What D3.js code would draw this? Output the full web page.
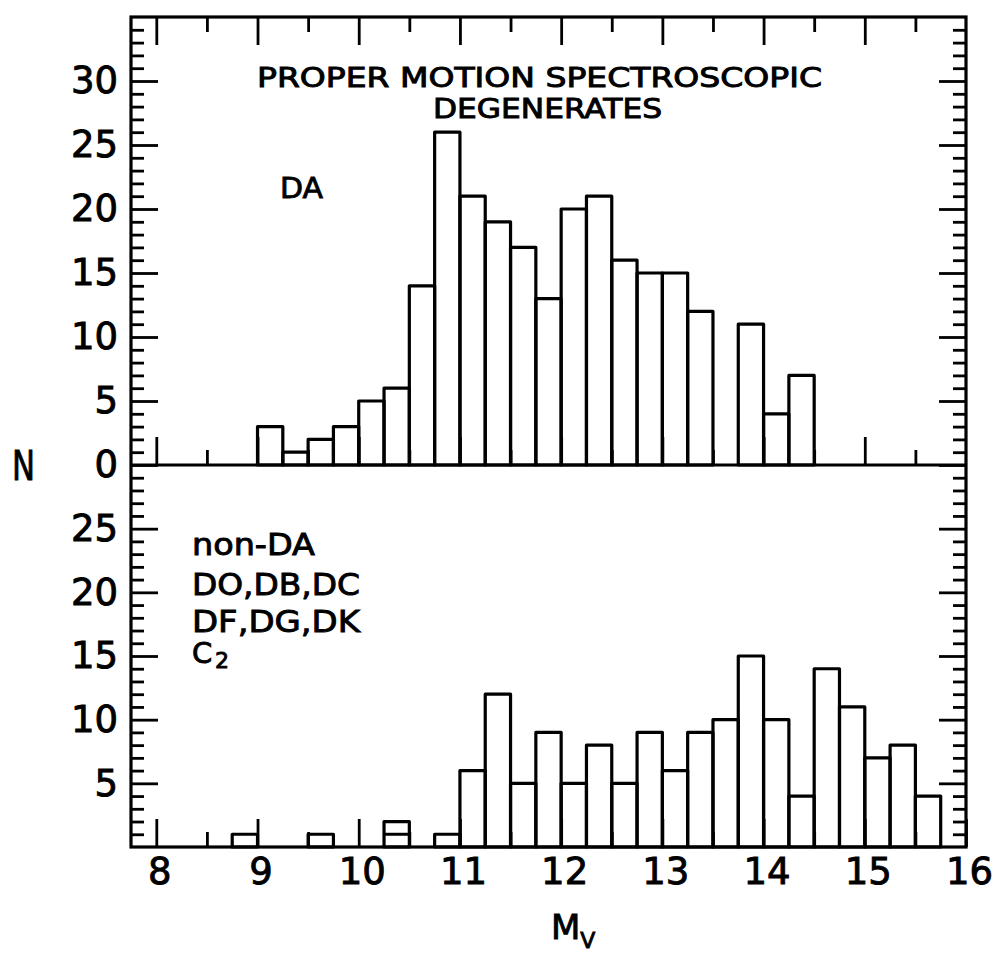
<!DOCTYPE html>
<html>
<head>
<meta charset="utf-8">
<script src="https://cdn.jsdelivr.net/npm/d3@7"></script>
<style>
  body { margin: 0; background: #fff; }
  svg { display: block; }
  text { stroke: #000; stroke-width: 0.9px; }
</style>
</head>
<body>
<div id="chart"></div>
<script>
// --- Data: counts per 0.25 mag bin (bins given by their lower edge in Mv) ---
const binWidth = 0.25;

const daBins = [9.0, 9.25, 9.5, 9.75, 10.0, 10.25, 10.5, 10.75, 11.0, 11.25, 11.5,
  11.75, 12.0, 12.25, 12.5, 12.75, 13.0, 13.25, 13.5, 13.75, 14.0, 14.25];
const daCounts = [3, 1, 2, 3, 5, 6, 14, 26, 21, 19, 17,
  13, 20, 21, 16, 15, 15, 12, 0, 11, 4, 7];

const nonDaBins = [8.75, 9.0, 9.25, 9.5, 9.75, 10.0, 10.25, 10.5, 10.75, 11.0, 11.25,
  11.5, 11.75, 12.0, 12.25, 12.5, 12.75, 13.0, 13.25, 13.5, 13.75, 14.0, 14.25,
  14.5, 14.75, 15.0, 15.25, 15.5];
const nonDaCounts = [1, 0, 0, 1, 0, 0, 2, 0, 1, 6, 12,
  5, 9, 5, 8, 5, 9, 6, 9, 10, 15, 10, 4,
  14, 11, 7, 8, 4];

// the 10.25 bin of the lower panel is drawn as two stacked boxes
const nonDaSplitBins = [10.25];
const nonDaSplitAt = [1];

// --- Ticks ---
const xTicks = [8, 9, 10, 11, 12, 13, 14, 15, 16];
const xMinorTicks = [8.5, 9.5, 10.5, 11.5, 12.5, 13.5, 14.5, 15.5];
const daTicks = [0, 5, 10, 15, 20, 25, 30];
const nonDaTicks = [5, 10, 15, 20, 25];

// --- Frame ---
const W = 996, H = 954;
const frame = { left: 131, right: 966, top: 17, mid: 465, bottom: 847 };
const font = "DejaVu Sans, Liberation Sans, sans-serif";

const svg = d3.select("#chart")
  .append("svg")
  .attr("width", W)
  .attr("height", H)
  .style("font-family", font);

// --- Scales ---
const x = d3.scaleLinear().domain([7.75, 16]).range([frame.left, frame.right]);
const yTop = d3.scaleLinear().domain([0, 35]).range([frame.mid, frame.top]);
const yBot = d3.scaleLinear().domain([0, 30]).range([frame.bottom, frame.mid]);

const minorTop = d3.range(1, 35).filter(d => d % 5 !== 0);
const minorBot = d3.range(1, 30).filter(d => d % 5 !== 0);

// --- Bars ---
function drawBars(bins, counts, y) {
  const rows = bins.map((b, i) => ({ b, c: counts[i] })).filter(d => d.c > 0);
  svg.append("g")
    .selectAll("rect")
    .data(rows)
    .join("rect")
    .attr("x", d => x(d.b))
    .attr("width", d => x(d.b + binWidth) - x(d.b))
    .attr("y", d => y(d.c))
    .attr("height", d => y(0) - y(d.c))
    .attr("fill", "none")
    .attr("stroke", "#000")
    .attr("stroke-width", 3.2)
    .attr("stroke-linejoin", "round");
}
drawBars(daBins, daCounts, yTop);
drawBars(nonDaBins, nonDaCounts, yBot);

svg.append("g")
  .selectAll("line")
  .data(nonDaSplitBins.map((b, i) => ({ b, at: nonDaSplitAt[i] })))
  .join("line")
  .attr("x1", d => x(d.b))
  .attr("x2", d => x(d.b + binWidth))
  .attr("y1", d => yBot(d.at))
  .attr("y2", d => yBot(d.at))
  .attr("stroke", "#000")
  .attr("stroke-width", 3);

// --- Axes (ticks point inward, frame drawn separately) ---
function tickAxis(axis, transform, labels, fontSize) {
  const g = svg.append("g")
    .attr("transform", transform)
    .call(axis);
  g.select(".domain").remove();
  g.selectAll(".tick line").attr("stroke", "#000").attr("stroke-width", 2.8);
  g.attr("font-size", fontSize || 10).attr("font-family", font);
  g.selectAll(".tick text").attr("fill", "#000");
  if (!labels) g.selectAll(".tick text").remove();
  return g;
}

// y axes, left with labels
tickAxis(d3.axisLeft(yTop).tickValues(daTicks).tickSizeInner(-27).tickSizeOuter(0).tickPadding(13),
  `translate(${frame.left},0)`, true, 37);
tickAxis(d3.axisLeft(yTop).tickValues(minorTop).tickSizeInner(-13).tickSizeOuter(0),
  `translate(${frame.left},0)`, false);
tickAxis(d3.axisLeft(yBot).tickValues(nonDaTicks).tickSizeInner(-27).tickSizeOuter(0).tickPadding(13),
  `translate(${frame.left},0)`, true, 37);
tickAxis(d3.axisLeft(yBot).tickValues(minorBot).tickSizeInner(-13).tickSizeOuter(0),
  `translate(${frame.left},0)`, false);

// y axes, right
tickAxis(d3.axisRight(yTop).tickValues(daTicks).tickSizeInner(-27).tickSizeOuter(0),
  `translate(${frame.right},0)`, false);
tickAxis(d3.axisRight(yTop).tickValues(minorTop).tickSizeInner(-13).tickSizeOuter(0),
  `translate(${frame.right},0)`, false);
tickAxis(d3.axisRight(yBot).tickValues(nonDaTicks).tickSizeInner(-27).tickSizeOuter(0),
  `translate(${frame.right},0)`, false);
tickAxis(d3.axisRight(yBot).tickValues(minorBot).tickSizeInner(-13).tickSizeOuter(0),
  `translate(${frame.right},0)`, false);

// x axes: top frame, middle baseline, bottom with labels
tickAxis(d3.axisTop(x).tickValues(xTicks.slice(0, -1)).tickSizeInner(-28).tickSizeOuter(0),
  `translate(0,${frame.top})`, false);
tickAxis(d3.axisTop(x).tickValues(xMinorTicks).tickSizeInner(-15).tickSizeOuter(0),
  `translate(0,${frame.top})`, false);
tickAxis(d3.axisBottom(x).tickValues(xTicks.slice(0, -1)).tickSizeInner(-28).tickSizeOuter(0),
  `translate(0,${frame.mid})`, false);
tickAxis(d3.axisBottom(x).tickValues(xMinorTicks).tickSizeInner(-15).tickSizeOuter(0),
  `translate(0,${frame.mid})`, false);
const xb = tickAxis(d3.axisBottom(x).tickValues(xTicks).tickSizeInner(-28).tickSizeOuter(0).tickPadding(11),
  `translate(0,${frame.bottom})`, true, 37);
xb.selectAll(".tick text").attr("dx", 3);
tickAxis(d3.axisBottom(x).tickValues(xMinorTicks).tickSizeInner(-15).tickSizeOuter(0),
  `translate(0,${frame.bottom})`, false);

// frame and middle line
svg.append("rect")
  .attr("x", frame.left).attr("y", frame.top)
  .attr("width", frame.right - frame.left).attr("height", frame.bottom - frame.top)
  .attr("fill", "none").attr("stroke", "#000").attr("stroke-width", 3.2);
svg.append("line")
  .attr("x1", frame.left).attr("x2", frame.right)
  .attr("y1", frame.mid).attr("y2", frame.mid)
  .attr("stroke", "#000").attr("stroke-width", 3.2);

// --- Texts ---
function label(txt, px, py, size, len) {
  const t = svg.append("text")
    .attr("x", px).attr("y", py)
    .attr("font-size", size)
    .attr("fill", "#000")
    .text(txt);
  if (len) t.attr("textLength", len).attr("lengthAdjust", "spacingAndGlyphs");
  return t;
}

label("PROPER MOTION SPECTROSCOPIC", 257, 87, 26, 565);
label("DEGENERATES", 433, 118, 26, 229);
label("DA", 280, 198, 29, 43);

label("non-DA", 192, 555, 30, 123);
label("DO,DB,DC", 192, 595, 30, 168);
label("DF,DG,DK", 192, 632, 30, 168);
label("C", 192, 663, 29);
label("2", 215, 668, 22);

label("N", 12, 480, 40, 23);

const mv = svg.append("text")
  .attr("x", 551).attr("y", 939)
  .attr("font-size", 34)
  .attr("fill", "#000");
mv.append("tspan").text("M");
mv.append("tspan").attr("font-size", 22).attr("dy", 9).text("V");
</script>
</body>
</html>
